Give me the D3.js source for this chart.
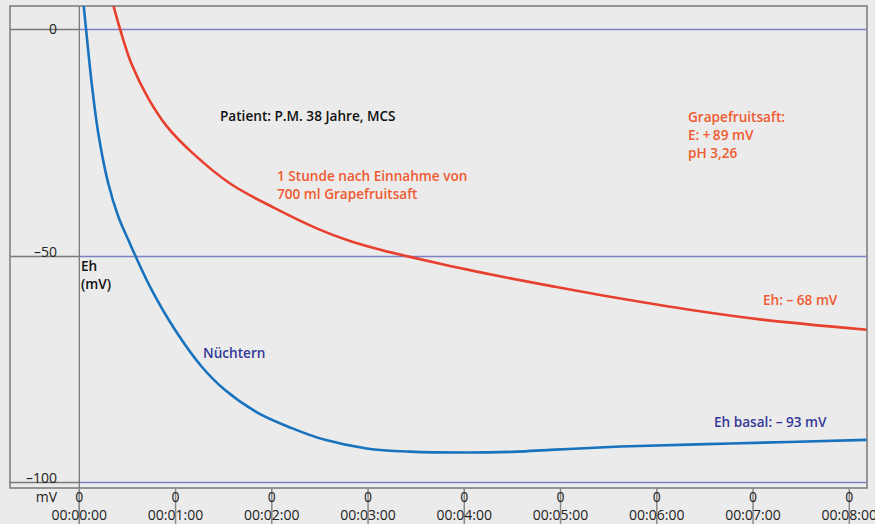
<!DOCTYPE html>
<html>
<head>
<meta charset="utf-8">
<style>
    body { margin: 0; background: #ebebeb; }
    svg { display: block; font-family: "Open Sans", "Noto Sans", sans-serif; }
</style>
</head>
<body>
<svg id="chart" width="875" height="524"></svg>
<script src="https://cdn.jsdelivr.net/npm/d3@7"></script>
<script>
// time in minutes, Eh in mV
const nuechternT = [0.03, 0.045, 0.07, 0.129, 0.197, 0.30, 0.405, 0.51, 0.579, 0.752, 0.994, 1.27, 1.514, 1.86, 2.207, 2.553, 2.986, 3.436, 4.025, 4.544, 4.89, 5.41, 5.72, 6.76, 8.18]
const nuechternEh = [8.5, 5.3, 0, -12, -23, -34, -41.4, -46.6, -49.9, -57.6, -66.4, -74.5, -79.7, -84.8, -88.1, -90.7, -92.6, -93.3, -93.5, -93.3, -92.9, -92.4, -92.1, -91.5, -90.7]

const grapeT = [0.32, 0.353, 0.423, 0.544, 0.717, 0.914, 1.178, 1.566, 2.036, 2.466, 2.812, 3.158, 3.436, 3.852, 4.371, 4.891, 5.41, 6.449, 7.072, 8.181]
const grapeEh = [8, 5.3, 0, -7.8, -15.3, -21.6, -27.4, -34.1, -39.6, -44.0, -46.8, -48.9, -50.3, -52.3, -54.6, -56.7, -58.7, -62.3, -64.1, -66.4]

const yTicks = [0, -50, -100]
const yTickLabels = ["0", "\u201350", "\u2013100"]
const xTicks = [0, 1, 2, 3, 4, 5, 6, 7, 8]
const xTickLabels = ["00:00:00", "00:01:00", "00:02:00", "00:03:00", "00:04:00", "00:05:00", "00:06:00", "00:07:00", "00:08:00"]

const svg = d3.select("#chart")
const plotLeft = 79.3, plotRight = 867, plotTop = 6, plotBottom = 488, frameLeft = 10

let x = d3.scaleLinear().domain([0, 8]).range([plotLeft, plotLeft + 8 * 96.25])
let y = d3.scaleLinear().domain([0, -100]).range([29, 482])

// frame
svg.append("rect")
    .attr("x", frameLeft).attr("y", plotTop)
    .attr("width", plotRight - frameLeft).attr("height", plotBottom - plotTop)
    .style("fill", "none").style("stroke", "#7a7a7a").style("stroke-width", 1.5)

// horizontal lines: grey in the label column, blue in the plot
yTicks.forEach(v => {
    let yy = Math.round(y(v)) + 0.5
    svg.append("line")
        .attr("x1", frameLeft).attr("x2", plotLeft)
        .attr("y1", yy).attr("y2", yy)
        .style("stroke", "#7a7a7a").style("stroke-width", 1.3)
    svg.append("line")
        .attr("x1", plotLeft).attr("x2", plotRight)
        .attr("y1", yy).attr("y2", yy)
        .style("stroke", "#7c81c6").style("stroke-width", 1.3)
})

// vertical axis line + tick lines under the frame
svg.append("line")
    .attr("x1", plotLeft).attr("x2", plotLeft).attr("y1", plotTop).attr("y2", 524)
    .style("stroke", "#7a7a7a").style("stroke-width", 1.3)
xTicks.forEach(t => {
    svg.append("line")
        .attr("x1", x(t)).attr("x2", x(t)).attr("y1", plotBottom).attr("y2", 524)
        .style("stroke", "#8a8a8a").style("stroke-width", 1.5)
})

// curves clipped to the plot area
svg.append("clipPath").attr("id", "plot")
    .append("rect").attr("x", plotLeft).attr("y", plotTop)
    .attr("width", plotRight - plotLeft).attr("height", plotBottom - plotTop)

let line = d3.line().x(d => x(d[0])).y(d => y(d[1])).curve(d3.curveCatmullRom.alpha(0.5))

svg.append("path")
    .datum(grapeT.map((t, i) => [t, grapeEh[i]]))
    .attr("d", line).attr("clip-path", "url(#plot)")
    .style("fill", "none").style("stroke", "#e8402e").style("stroke-width", 2.6)

svg.append("path")
    .datum(nuechternT.map((t, i) => [t, nuechternEh[i]]))
    .attr("d", line).attr("clip-path", "url(#plot)")
    .style("fill", "none").style("stroke", "#1872bd").style("stroke-width", 2.6)

// y tick labels (they sit on their line)
svg.selectAll(".ylab").data(yTicks).enter().append("text")
    .attr("x", 57).attr("y", d => d === 0 ? y(d) + 5 : y(d) + 1)
    .attr("text-anchor", "end")
    .style("font-size", "14px").style("fill", "#222")
    .text((d, i) => yTickLabels[i])

// x tick labels
svg.append("text").attr("x", 57).attr("y", 502).attr("text-anchor", "end")
    .style("font-size", "14px").style("fill", "#222").text("mV")
svg.selectAll(".xzero").data(xTicks).enter().append("text")
    .attr("x", d => x(d)).attr("y", 502).attr("text-anchor", "middle")
    .style("font-size", "14px").style("fill", "#222").text("0")
svg.selectAll(".xlab").data(xTicks).enter().append("text")
    .attr("x", d => x(d)).attr("y", 520).attr("text-anchor", "middle")
    .style("font-size", "14px").style("fill", "#222")
    .text((d, i) => xTickLabels[i])

// annotations
function label(lines, x0, y0, color) {
    lines.forEach((s, i) => {
        svg.append("text").attr("x", x0).attr("y", y0 + i * 18)
            .style("font-size", "13.6px").style("font-weight", 600)
            .style("fill", color).text(s)
    })
}
label(["Eh", "(mV)"], 81, 271, "#111")
label(["Patient: P.M. 38 Jahre, MCS"], 220, 121, "#111")
label(["1 Stunde nach Einnahme von", "700 ml Grapefruitsaft"], 277, 181, "#f05a30")
label(["Grapefruitsaft:", "E: +\u200989 mV", "pH 3,26"], 688, 122, "#f05a30")
label(["Eh: \u2013 68 mV"], 763, 305, "#f05a30")
label(["N\u00fcchtern"], 203, 358, "#35399a")
label(["Eh basal: \u2013 93 mV"], 714, 427, "#35399a")
</script>
</body>
</html>
